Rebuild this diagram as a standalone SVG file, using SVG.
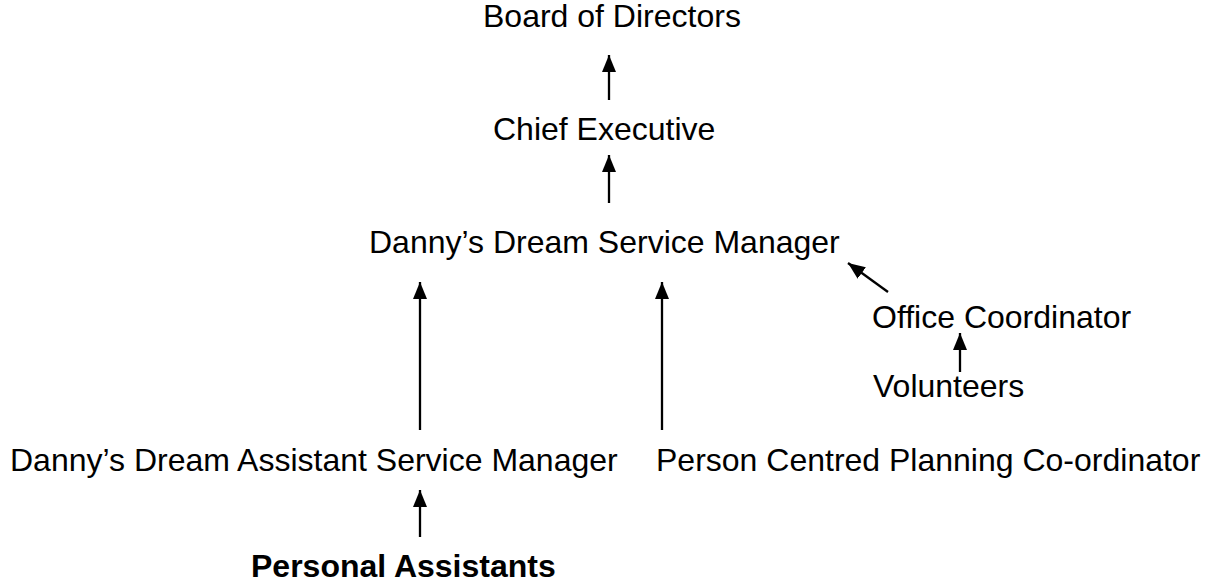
<svg xmlns="http://www.w3.org/2000/svg" width="1209" height="587" viewBox="0 0 1209 587">
<style>
text{font-family:"Liberation Sans",Arial,sans-serif;font-size:32px;fill:#000}
.b{font-weight:bold}
.c{stroke:#000;stroke-width:2.3;fill:none;marker-end:url(#ah)}
</style>
<defs>
<marker id="ah" markerUnits="userSpaceOnUse" markerWidth="18" markerHeight="16" refX="17" refY="7" orient="auto" viewBox="0 0 18 16">
<path d="M0,0 L17,7 L0,14 z" fill="#000"/>
</marker>
</defs>
<rect width="1209" height="587" fill="#fff"/>
<g id="connectors">
<line class="c" x1="609" y1="100" x2="609" y2="55"/>
<line class="c" x1="609" y1="203" x2="609" y2="155"/>
<line class="c" x1="420" y1="430" x2="420" y2="282"/>
<line class="c" x1="662" y1="430" x2="662" y2="282"/>
<line class="c" x1="888" y1="292" x2="848" y2="263"/>
<line class="c" x1="960" y1="372" x2="960" y2="333"/>
<line class="c" x1="420" y1="537" x2="420" y2="490"/>
</g>
<g id="board"><text x="483" y="27">Board of Directors</text></g>
<g id="ceo"><text x="493" y="140">Chief Executive</text></g>
<g id="dsm"><text x="369" y="253">Danny’s Dream Service Manager</text></g>
<g id="office"><text x="872" y="328">Office Coordinator</text></g>
<g id="volunteers"><text x="873" y="397">Volunteers</text></g>
<g id="asm"><text x="10" y="471">Danny’s Dream Assistant Service Manager</text></g>
<g id="pcp"><text x="656" y="471">Person Centred Planning Co-ordinator</text></g>
<g id="pa"><text class="b" x="251" y="577">Personal Assistants</text></g>
</svg>
